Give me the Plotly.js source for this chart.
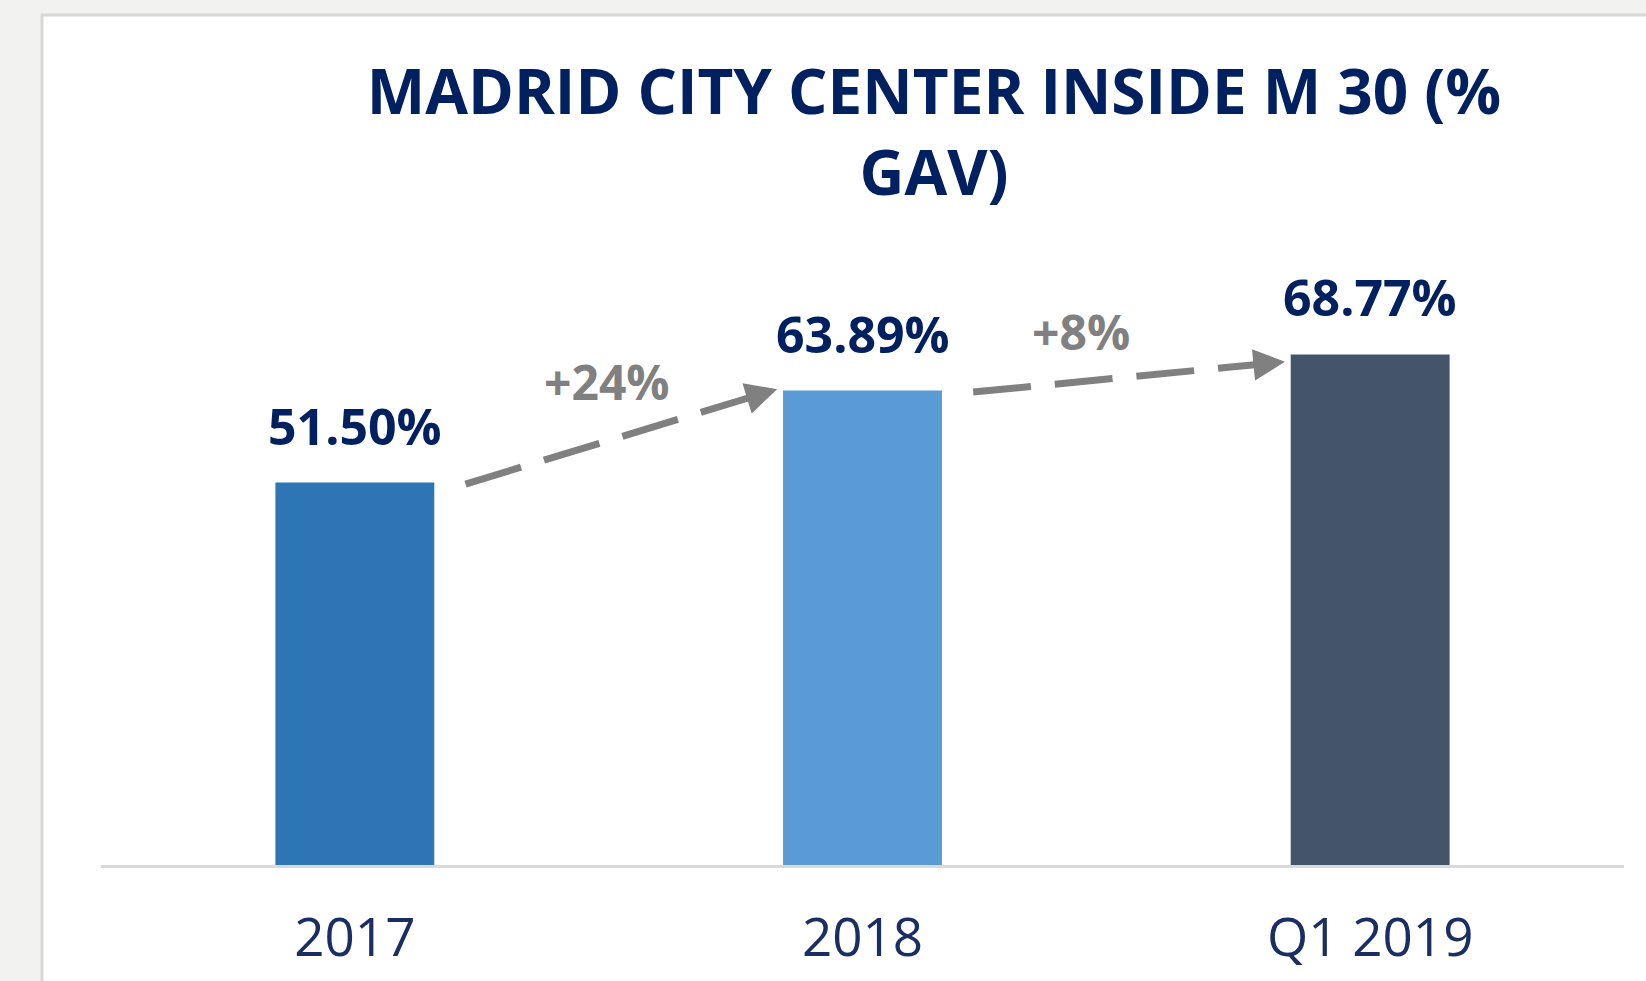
<!DOCTYPE html>
<html>
<head>
<meta charset="utf-8">
<script src="https://cdn.plot.ly/plotly-3.0.1.min.js"></script>
<style>
  html, body { margin: 0; padding: 0; background: #f2f2f0; }
  #chart { width: 1646px; height: 981px; }
</style>
</head>
<body>
<div id="chart"></div>
<script>
// ---- data ----
const categories = ['2017', '2018', 'Q1 2019'];
const shareValues = [51.50, 63.89, 68.77];
const barColors = ['#2E75B6', '#5B9BD5', '#44546A'];
const growthLabels = ['+24%', '+8%'];
const chartTitle = 'MADRID CITY CENTER INSIDE M 30 (%<br>GAV)';

// ---- layout constants ----
const W = 1646, H = 981;
const M = { l: 101, r: 22, t: 271, b: 116 };
const yMax = 80;
const plotW = W - M.l - M.r, plotH = H - M.t - M.b;
const pxPerCat = plotW / categories.length;
const pxPerUnit = plotH / yMax;

const navy = '#002060';
const grey = '#808080';
const FONT = 'Open Sans, sans-serif';

const barTrace = {
  type: 'bar',
  x: categories,
  y: shareValues,
  marker: { color: barColors, line: { width: 0 } },
  hoverinfo: 'skip'
};

// value labels
const annotations = shareValues.map((v, i) => ({
  x: i, y: v, xref: 'x', yref: 'y',
  text: v.toFixed(2) + '%',
  showarrow: false, yanchor: 'bottom', yshift: 21,
  font: { family: FONT, size: 50, color: navy, weight: 700 }
}));

// growth arrows (dashed line shapes + arrow heads)
const shapes = [];
const startDx = 0.218, tipDx = 0.168;
const tipDy = [0.2, -1.0];
const labelPos = [{ dx: 0.496, y: 65.1 }, { dx: 0.43, y: 71.8 }];
for (let i = 0; i < shareValues.length - 1; i++) {
  const x0 = i + startDx, y0 = shareValues[i] - 0.2;
  const x1 = i + 1 - tipDx, y1 = shareValues[i + 1] + tipDy[i];
  const dxp = (x1 - x0) * pxPerCat, dyp = (y1 - y0) * pxPerUnit;
  const len = Math.sqrt(dxp * dxp + dyp * dyp);
  const ux = dxp / len, uy = dyp / len;
  const headLen = 20;
  shapes.push({
    type: 'line', xref: 'x', yref: 'y',
    x0: x0, y0: y0,
    x1: x1 - ux * headLen / pxPerCat, y1: y1 - uy * headLen / pxPerUnit,
    line: { color: grey, width: 7, dash: '58px,24px' }
  });
  annotations.push({
    x: x1, y: y1, xref: 'x', yref: 'y',
    ax: -ux * 24, ay: uy * 24,
    text: '', showarrow: true, arrowhead: 2, arrowsize: 0.9, arrowwidth: 7,
    arrowcolor: grey, standoff: 0
  });
  annotations.push({
    x: i + labelPos[i].dx, y: labelPos[i].y, xref: 'x', yref: 'y',
    text: growthLabels[i], showarrow: false, yanchor: 'middle',
    font: { family: FONT, size: 48, color: grey, weight: 700 }
  });
}

// white panel with border
shapes.unshift({
  type: 'rect', xref: 'paper', yref: 'paper', layer: 'below',
  x0: (42 - M.l) / plotW, x1: (W + 20 - M.l) / plotW,
  y0: -(H + 20 - (H - M.b)) / plotH, y1: ((H - M.b) - 15) / plotH,
  fillcolor: '#ffffff', line: { color: '#d8d8d8', width: 3 }
});

const layout = {
  width: W, height: H,
  margin: M,
  paper_bgcolor: '#f2f2f0',
  plot_bgcolor: 'rgba(0,0,0,0)',
  showlegend: false,
  bargap: 0.687,
  title: {
    text: chartTitle,
    font: { family: FONT, size: 62, color: navy, weight: 700 },
    x: 934 / W, xref: 'container', xanchor: 'center',
    y: 1 - 114 / H, yref: 'container', yanchor: 'top'
  },
  xaxis: {
    type: 'category',
    showline: true, linecolor: '#d9d9d9', linewidth: 3,
    showgrid: false, zeroline: false, ticks: '',
    ticklabelstandoff: 24,
    tickfont: { family: FONT, size: 53, color: '#1B2E63' },
    fixedrange: true
  },
  yaxis: {
    range: [0, yMax], visible: false, showgrid: false, zeroline: false,
    fixedrange: true
  },
  shapes: shapes,
  annotations: annotations
};

Plotly.newPlot('chart', [barTrace], layout, { displayModeBar: false, staticPlot: true });
</script>
</body>
</html>
